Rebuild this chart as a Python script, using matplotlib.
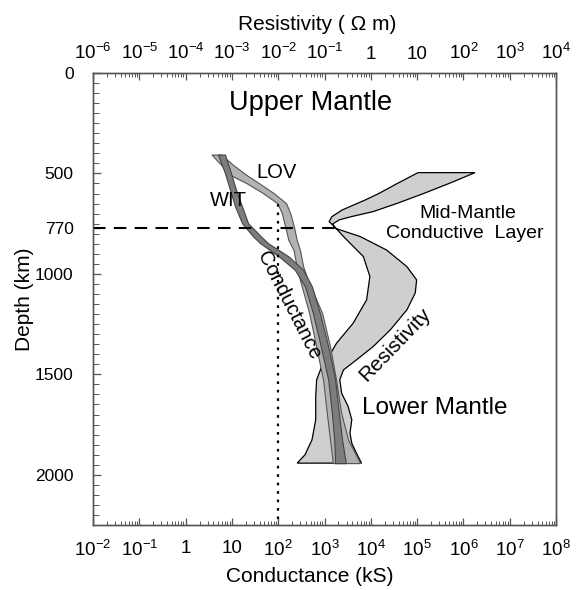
import matplotlib

matplotlib.use("Agg")

import matplotlib.pyplot as plt  # noqa: E402
import numpy as np  # noqa: E402
from matplotlib.ticker import MultipleLocator, LogLocator, NullFormatter  # noqa: E402

plt.rcParams["font.family"] = ["Liberation Sans", "DejaVu Sans"]
plt.rcParams["mathtext.fontset"] = "custom"
plt.rcParams["mathtext.rm"] = "Liberation Sans"
plt.rcParams["mathtext.it"] = "Liberation Sans"
plt.rcParams["mathtext.default"] = "regular"

# --- data (depth in km, values as log10) ------------------------------------
# WIT conductance band (kS)
wit_depth = [406, 499, 582, 665, 748, 814, 847, 914, 980, 1063, 1196, 1362, 1527, 1693, 1826, 1942]
wit_lo = [0.70, 0.85, 0.96, 1.07, 1.22, 1.46, 1.61, 2.02, 2.36, 2.58, 2.75, 2.92, 3.08, 3.16, 3.21, 3.23]
wit_hi = [0.85, 0.98, 1.09, 1.22, 1.35, 1.63, 1.78, 2.23, 2.54, 2.73, 2.90, 3.08, 3.23, 3.31, 3.38, 3.46]

# LOV conductance band (kS)
lov_depth = [406, 458, 507, 549, 599, 648, 698, 765, 831, 881, 964, 1030, 1196, 1362, 1527, 1692, 1826, 1942]
lov_lo = [0.56, 0.77, 0.96, 1.32, 1.68, 1.98, 2.08, 2.15, 2.22, 2.33, 2.40, 2.47, 2.67, 2.82, 2.97, 3.05, 3.12, 3.18]
lov_hi = [0.77, 1.03, 1.31, 1.59, 1.91, 2.17, 2.26, 2.34, 2.40, 2.47, 2.54, 2.64, 2.95, 3.12, 3.25, 3.36, 3.51, 3.77]

# resistivity band (ohm m): lower and upper bounds, each with its own depths
rho_lo_depth = [496, 549, 599, 632, 682, 715, 740, 768, 814, 914, 1013, 1129, 1245, 1345, 1428,
                1461, 1527, 1610, 1726, 1826, 1900, 1942]
rho_lo = [1.02, 0.58, 0.18, -0.12, -0.62, -0.84, -0.90, -0.77, -0.59, -0.16, -0.02, -0.09, -0.38,
          -0.74, -0.95, -1.06, -1.17, -1.19, -1.19, -1.27, -1.42, -1.59]
rho_hi_depth = [496, 549, 599, 648, 690, 715, 731, 751, 773, 814, 881, 964, 1030, 1095, 1179, 1279,
                1362, 1428, 1478, 1527, 1594, 1660, 1726, 1793, 1843, 1893, 1942]
rho_hi = [2.25, 1.70, 1.15, 0.58, 0.05, -0.42, -0.68, -0.82, -0.77, -0.23, 0.34, 0.78, 0.99, 0.96,
          0.78, 0.42, 0.05, -0.31, -0.59, -0.67, -0.63, -0.49, -0.41, -0.45, -0.41, -0.31, -0.20]

depth_ticks = [0, 500, 770, 1000, 1500, 2000]
cond_exp = list(range(-2, 9))
rho_exp = list(range(-6, 5))


def decade_label(e):
    if e == 0:
        return "1"
    if e == 1:
        return "10"
    return "$10^{%d}$" % e


fig = plt.figure(figsize=(5.78, 5.90), dpi=100)
ax = fig.add_axes([93 / 578, 1 - 525 / 590, 463 / 578, 452 / 590])
ax.set_xscale("log")
ax.set_xlim(1e-2, 1e8)
ax.set_ylim(2250, 0)

ax_top = ax.twiny()
ax_top.set_xscale("log")
ax_top.set_xlim(1e-6, 1e4)
ax.set_zorder(ax_top.get_zorder() + 1)
ax.patch.set_visible(False)

frame = "#555555"

# resistivity band on the top (resistivity) scale
poly_x = np.concatenate([10 ** np.array(rho_lo), 10 ** np.array(rho_hi)[::-1]])
poly_y = np.concatenate([rho_lo_depth, rho_hi_depth[::-1]])
ax_top.fill(poly_x, poly_y, facecolor="#cfcfcf", edgecolor="black", linewidth=0.9)

# conductance bands
ax.fill_betweenx(lov_depth, 10 ** np.array(lov_lo), 10 ** np.array(lov_hi),
                 facecolor="#b2b2b2", edgecolor="#555555", linewidth=0.8)
ax.fill_betweenx(wit_depth, 10 ** np.array(wit_lo), 10 ** np.array(wit_hi),
                 facecolor="#7d7d7d", edgecolor="#444444", linewidth=0.8)

# reference lines
ax.plot([1e-2, 10 ** 3.23], [770, 770], color="black", linewidth=1.5, dashes=(6, 4))
ax.plot([100, 100], [650, 2250], color="black", linewidth=1.6, dashes=(1.2, 2.6))

# annotations
ax.text(10 ** 2.69, 150, "Upper Mantle", fontsize=19.5, ha="center", va="center")
ax.text(10 ** 5.39, 1667, "Lower Mantle", fontsize=17.5, ha="center", va="center")
ax.text(10 ** 1.97, 493, "LOV", fontsize=14.5, ha="center", va="center")
ax.text(10 ** 0.92, 637, "WIT", fontsize=14.5, ha="center", va="center")
ax.text(10 ** 6.10, 697, "Mid-Mantle", fontsize=14, ha="center", va="center")
ax.text(10 ** 6.03, 801, "Conductive  Layer", fontsize=14, ha="center", va="center")
ax.text(10 ** 2.23, 1159, "Conductance", fontsize=14.5, ha="center", va="center",
        rotation=-63, rotation_mode="anchor")
ax.text(10 ** 4.52, 1353, "Resistivity", fontsize=15, ha="center", va="center",
        rotation=46, rotation_mode="anchor")

# axes / ticks
ax.set_xticks([10.0 ** e for e in cond_exp])
ax.set_xticklabels([decade_label(e) for e in cond_exp])
ax.xaxis.set_minor_locator(LogLocator(base=10, subs=np.arange(2, 10), numticks=100))
ax.xaxis.set_minor_formatter(NullFormatter())
ax.set_yticks(depth_ticks)
ax.yaxis.set_minor_locator(MultipleLocator(50))
ax.tick_params(axis="x", which="both", direction="in", top=False, colors=frame,
               labelcolor="black", labelsize=13.5, pad=11)
ax.tick_params(axis="x", which="major", length=5, width=0.9)
ax.tick_params(axis="x", which="minor", length=3, width=0.7)
ax.tick_params(axis="y", which="both", direction="in", right=False, colors=frame,
               labelcolor="black", labelsize=12.5, pad=14)
ax.tick_params(axis="y", which="major", length=6, width=0.9)
ax.tick_params(axis="y", which="minor", length=4, width=0.7)

ax_top.set_xticks([10.0 ** e for e in rho_exp])
ax_top.set_xticklabels([decade_label(e) for e in rho_exp])
ax_top.xaxis.set_minor_locator(LogLocator(base=10, subs=np.arange(2, 10), numticks=100))
ax_top.xaxis.set_minor_formatter(NullFormatter())
ax_top.tick_params(axis="x", which="both", direction="in", colors=frame,
                   labelcolor="black", labelsize=13.5, pad=7)
ax_top.tick_params(axis="x", which="major", length=5, width=0.9)
ax_top.tick_params(axis="x", which="minor", length=3, width=0.7)

for a in (ax, ax_top):
    for spine in a.spines.values():
        spine.set_color(frame)
        spine.set_linewidth(1.0)

ax.set_xlabel("Conductance (kS)", fontsize=15)
ax.set_ylabel("Depth (km)", fontsize=15)
ax_top.set_xlabel("Resistivity ( \u03a9 m)", fontsize=15)
ax.xaxis.set_label_coords(0.469, -0.093)
ax.yaxis.set_label_coords(-0.128, 0.5)
ax_top.xaxis.set_label_coords(0.484, 1.095)

fig.savefig("out.png", dpi=100, facecolor="white")
